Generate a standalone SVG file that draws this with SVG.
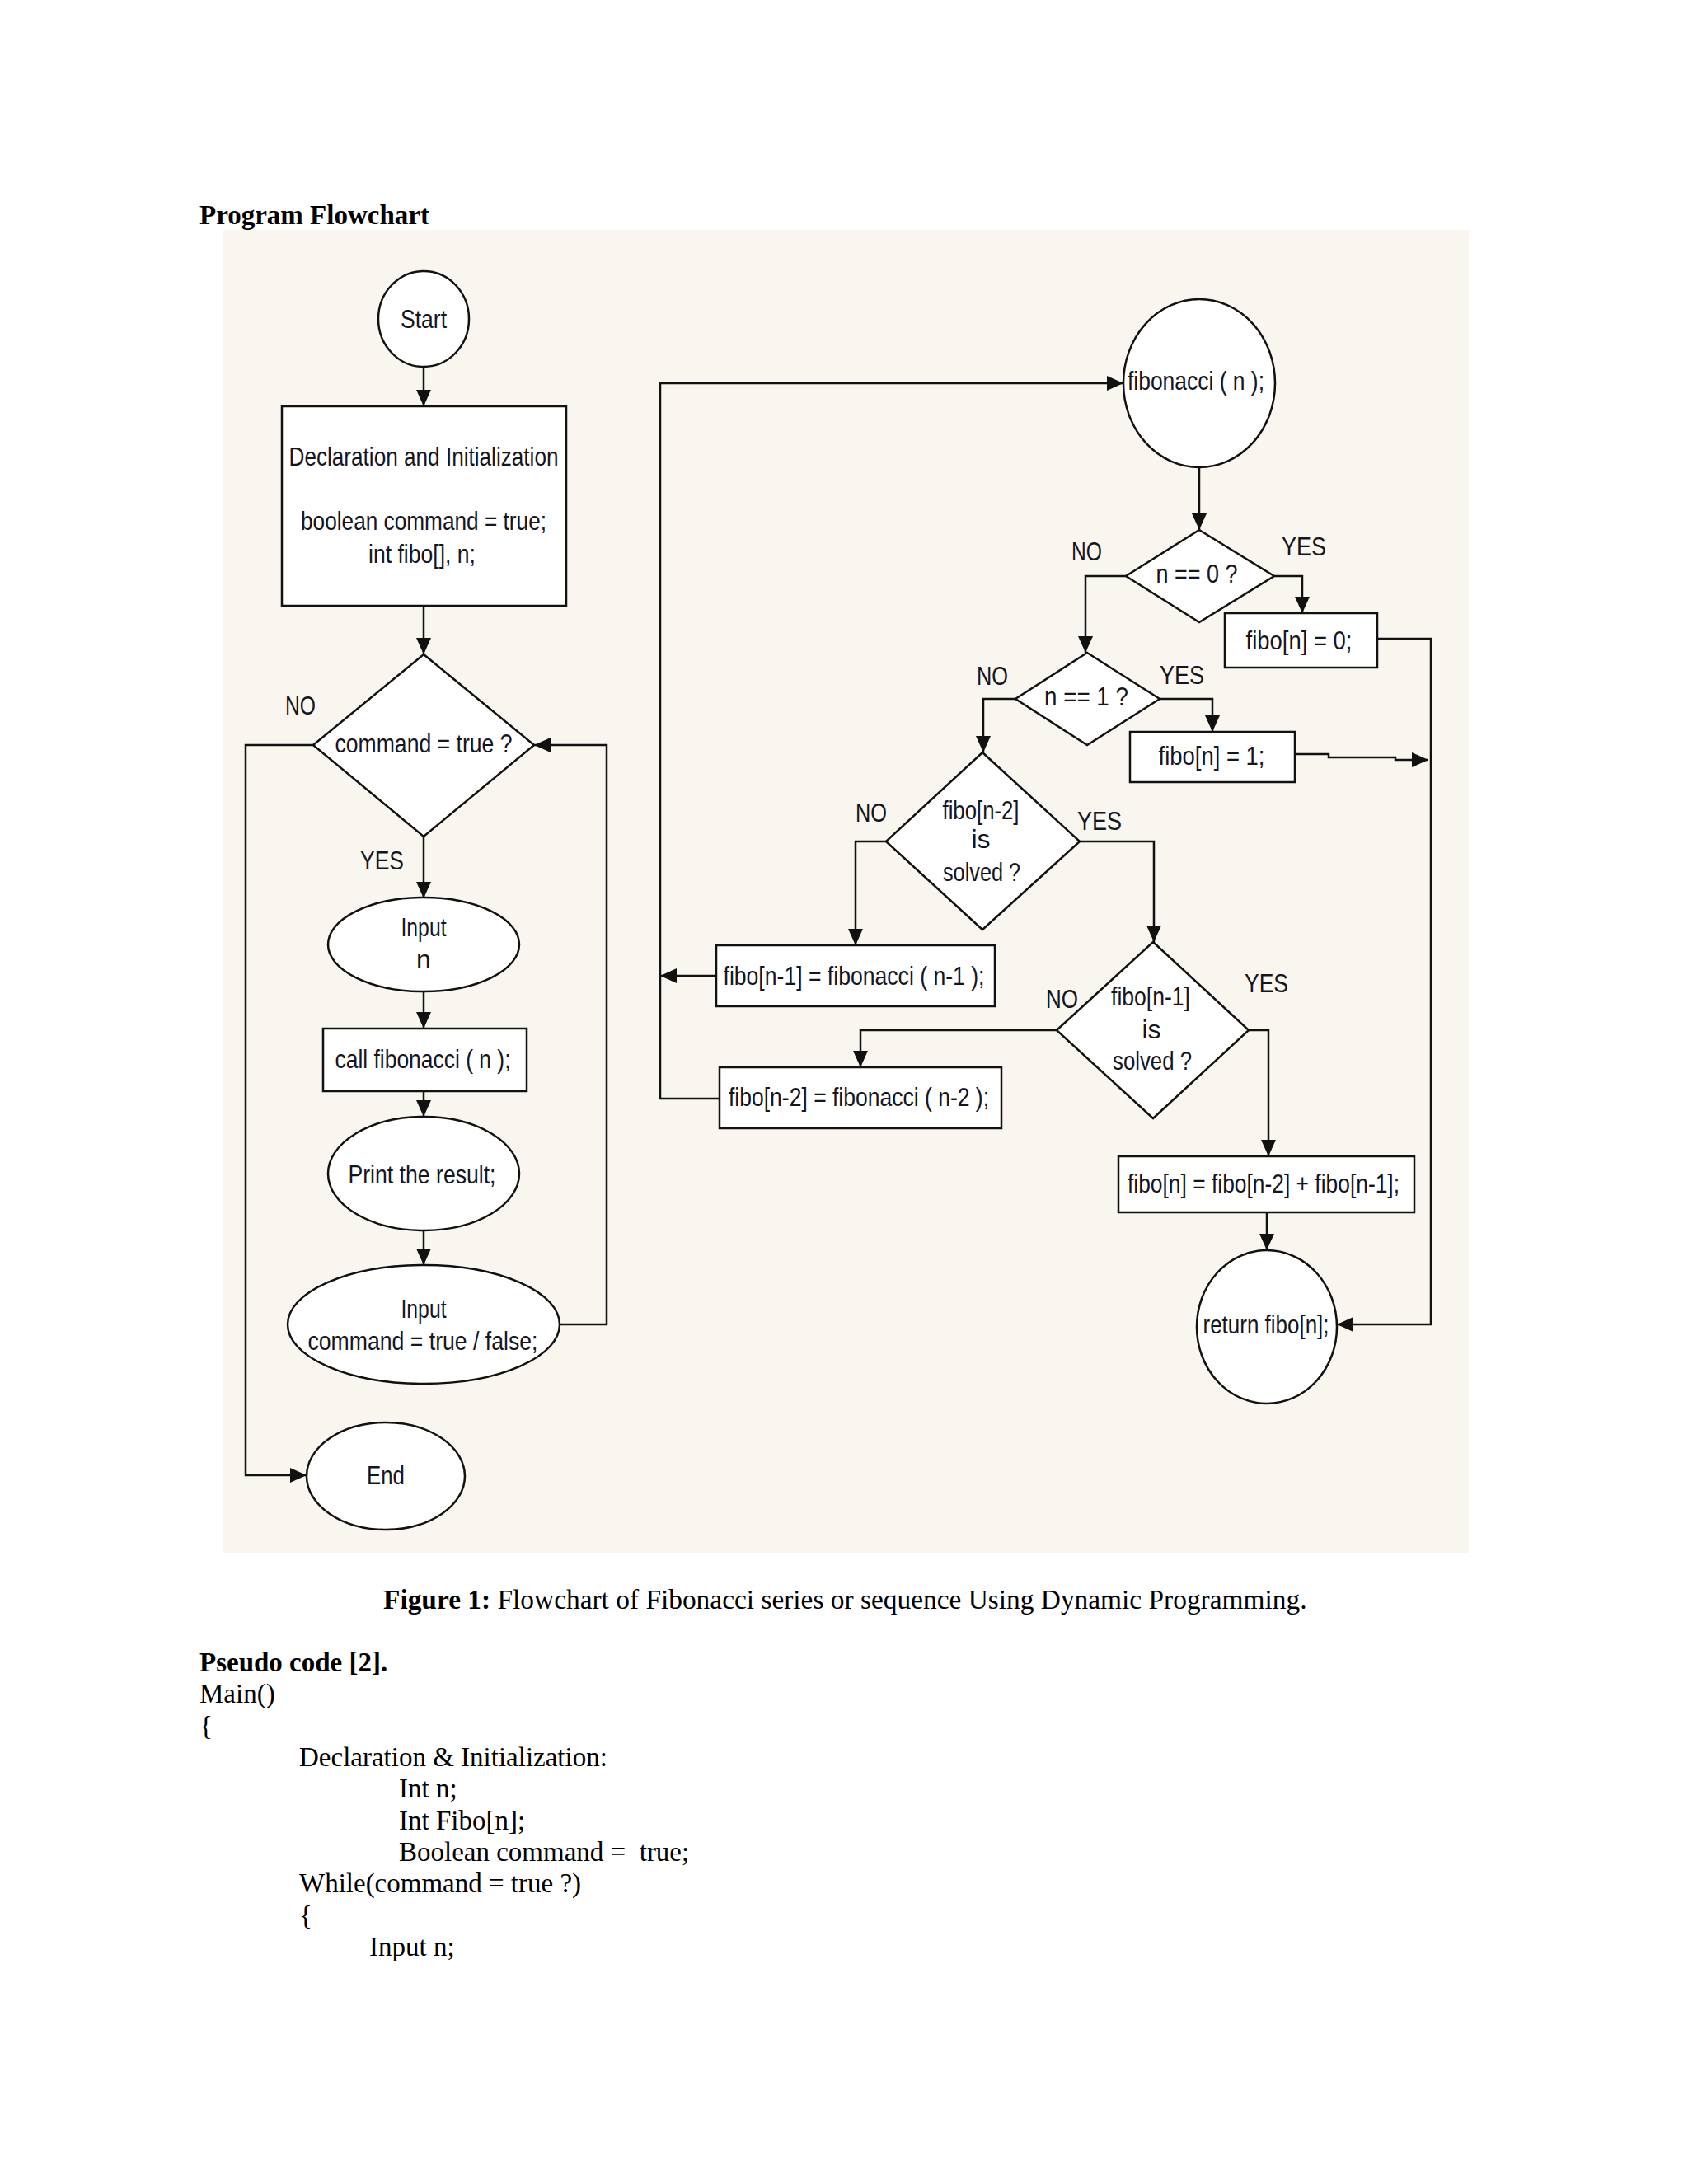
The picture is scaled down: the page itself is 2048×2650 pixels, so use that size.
<svg xmlns="http://www.w3.org/2000/svg" width="2048" height="2650" viewBox="0 0 2048 2650">
<style>
.doc{font-family:"Liberation Serif","Times New Roman",serif;font-size:33px;fill:#000}
.cap{font-size:33.4px}
.b{font-weight:bold}
.t{font-family:"Liberation Sans Narrow","Liberation Sans",Arial,sans-serif;font-size:32px;fill:#15151d;text-anchor:middle}
.l{font-family:"Liberation Sans Narrow","Liberation Sans",Arial,sans-serif;font-size:32px;fill:#15151d}
.s{fill:#fff;stroke:#111;stroke-width:2.5}
.c{fill:none;stroke:#111;stroke-width:2.5}
</style>
<defs>
<marker id="ah" viewBox="0 0 20 18" refX="20" refY="9" markerWidth="20" markerHeight="18" orient="auto" markerUnits="userSpaceOnUse"><path d="M0,0 L20,9 L0,18 z" fill="#111"/></marker>
</defs>
<rect width="2048" height="2650" fill="#fff"/>
<text class="doc b" x="242" y="272">Program Flowchart</text>
<rect x="271" y="279" width="1511" height="1605" fill="#f9f6f0"/>

<g id="connectors">
<path class="c" d="M514,445 V493" marker-end="url(#ah)"/>
<path class="c" d="M514,735 V794" marker-end="url(#ah)"/>
<path class="c" d="M380,904 H298 V1790 H372" marker-end="url(#ah)"/>
<path class="c" d="M514,1015 V1090" marker-end="url(#ah)"/>
<path class="c" d="M514,1203 V1248" marker-end="url(#ah)"/>
<path class="c" d="M514,1324 V1355" marker-end="url(#ah)"/>
<path class="c" d="M514,1493 V1535" marker-end="url(#ah)"/>
<path class="c" d="M679,1607 H736 V904 H648" marker-end="url(#ah)"/>
<path class="c" d="M873,1333 H801 V465 H1363" marker-end="url(#ah)"/>
<path class="c" d="M869,1184 H801" marker-end="url(#ah)"/>
<path class="c" d="M1455,567 V643" marker-end="url(#ah)"/>
<path class="c" d="M1366,699 H1317 V792" marker-end="url(#ah)"/>
<path class="c" d="M1546,699 H1580 V744" marker-end="url(#ah)"/>
<path class="c" d="M1671,775 H1736 V1607 H1622" marker-end="url(#ah)"/>
<path class="c" d="M1232,848 H1193 V913" marker-end="url(#ah)"/>
<path class="c" d="M1407,848 H1471 V888" marker-end="url(#ah)"/>
<path class="c" d="M1571,915 H1612 V919 H1693 V922 H1733" marker-end="url(#ah)"/>
<path class="c" d="M1075,1021 H1038 V1147" marker-end="url(#ah)"/>
<path class="c" d="M1310,1021 H1400 V1143" marker-end="url(#ah)"/>
<path class="c" d="M1282,1250 H1044 V1295" marker-end="url(#ah)"/>
<path class="c" d="M1515,1250 H1539 V1403" marker-end="url(#ah)"/>
<path class="c" d="M1537,1471 V1517" marker-end="url(#ah)"/>
</g>

<g id="labels">
<text class="l" x="346" y="867" textLength="37" lengthAdjust="spacingAndGlyphs">NO</text>
<text class="l" x="437" y="1055" textLength="53" lengthAdjust="spacingAndGlyphs">YES</text>
<text class="l" x="1300" y="680" textLength="37" lengthAdjust="spacingAndGlyphs">NO</text>
<text class="l" x="1555" y="674" textLength="54" lengthAdjust="spacingAndGlyphs">YES</text>
<text class="l" x="1185" y="831" textLength="38" lengthAdjust="spacingAndGlyphs">NO</text>
<text class="l" x="1407" y="830" textLength="54" lengthAdjust="spacingAndGlyphs">YES</text>
<text class="l" x="1038" y="997" textLength="38" lengthAdjust="spacingAndGlyphs">NO</text>
<text class="l" x="1307" y="1007" textLength="54" lengthAdjust="spacingAndGlyphs">YES</text>
<text class="l" x="1269" y="1223" textLength="39" lengthAdjust="spacingAndGlyphs">NO</text>
<text class="l" x="1510" y="1204" textLength="53" lengthAdjust="spacingAndGlyphs">YES</text>
</g>

<g id="start">
<ellipse class="s" cx="514" cy="387" rx="55" ry="58"/>
<text class="t" x="514" y="398" textLength="56" lengthAdjust="spacingAndGlyphs">Start</text>
</g>
<g id="declaration">
<rect class="s" x="342" y="493" width="345" height="242"/>
<text class="t" x="514" y="565" textLength="327" lengthAdjust="spacingAndGlyphs">Declaration and Initialization</text>
<text class="t" x="514" y="643" textLength="298" lengthAdjust="spacingAndGlyphs">boolean command = true;</text>
<text class="t" x="512" y="683" textLength="130" lengthAdjust="spacingAndGlyphs">int fibo[], n;</text>
</g>
<g id="command-decision">
<polygon class="s" points="514,794 648,904 514,1015 380,904"/>
<text class="t" x="514" y="913" textLength="215" lengthAdjust="spacingAndGlyphs">command = true ?</text>
</g>
<g id="input-n">
<ellipse class="s" cx="514" cy="1146" rx="116" ry="57"/>
<text class="t" x="514" y="1136" textLength="55" lengthAdjust="spacingAndGlyphs">Input</text>
<text class="t" x="514" y="1175">n</text>
</g>
<g id="call-fibonacci">
<rect class="s" x="392" y="1248" width="247" height="76"/>
<text class="t" x="513" y="1296" textLength="213" lengthAdjust="spacingAndGlyphs">call fibonacci ( n );</text>
</g>
<g id="print-result">
<ellipse class="s" cx="514" cy="1424" rx="116" ry="69"/>
<text class="t" x="512" y="1436" textLength="179" lengthAdjust="spacingAndGlyphs">Print the result;</text>
</g>
<g id="input-command">
<ellipse class="s" cx="514" cy="1607" rx="165" ry="72"/>
<text class="t" x="514" y="1599" textLength="55" lengthAdjust="spacingAndGlyphs">Input</text>
<text class="t" x="513" y="1638" textLength="279" lengthAdjust="spacingAndGlyphs">command = true / false;</text>
</g>
<g id="end">
<ellipse class="s" cx="468" cy="1791" rx="96" ry="65"/>
<text class="t" x="468" y="1801" textLength="46" lengthAdjust="spacingAndGlyphs">End</text>
</g>

<g id="fibonacci-fn">
<ellipse class="s" cx="1455" cy="465" rx="92" ry="102"/>
<text class="t" x="1451" y="473" textLength="166" lengthAdjust="spacingAndGlyphs">fibonacci ( n );</text>
</g>
<g id="n-eq-0">
<polygon class="s" points="1455,643 1546,699 1455,755 1366,699"/>
<text class="t" x="1452" y="707" textLength="99" lengthAdjust="spacingAndGlyphs">n == 0 ?</text>
</g>
<g id="fibo-0">
<rect class="s" x="1486" y="744" width="185" height="66"/>
<text class="t" x="1576" y="788" textLength="129" lengthAdjust="spacingAndGlyphs">fibo[n] = 0;</text>
</g>
<g id="n-eq-1">
<polygon class="s" points="1319,792 1407,848 1319,904 1232,848"/>
<text class="t" x="1318" y="856" textLength="102" lengthAdjust="spacingAndGlyphs">n == 1 ?</text>
</g>
<g id="fibo-1">
<rect class="s" x="1371" y="888" width="200" height="61"/>
<text class="t" x="1470" y="928" textLength="129" lengthAdjust="spacingAndGlyphs">fibo[n] = 1;</text>
</g>
<g id="n2-solved">
<polygon class="s" points="1192,913 1310,1021 1192,1128 1075,1021"/>
<text class="t" x="1190" y="994" textLength="93" lengthAdjust="spacingAndGlyphs">fibo[n-2]</text>
<text class="t" x="1190" y="1029">is</text>
<text class="t" x="1191" y="1069" textLength="94" lengthAdjust="spacingAndGlyphs">solved ?</text>
</g>
<g id="fibo-n1-call">
<rect class="s" x="869" y="1147" width="338" height="74"/>
<text class="t" x="1036" y="1195" textLength="317" lengthAdjust="spacingAndGlyphs">fibo[n-1] = fibonacci ( n-1 );</text>
</g>
<g id="n1-solved">
<polygon class="s" points="1399,1143 1515,1250 1399,1357 1282,1250"/>
<text class="t" x="1396" y="1220" textLength="96" lengthAdjust="spacingAndGlyphs">fibo[n-1]</text>
<text class="t" x="1397" y="1260">is</text>
<text class="t" x="1398" y="1298" textLength="96" lengthAdjust="spacingAndGlyphs">solved ?</text>
</g>
<g id="fibo-n2-call">
<rect class="s" x="873" y="1295" width="342" height="74"/>
<text class="t" x="1042" y="1342" textLength="316" lengthAdjust="spacingAndGlyphs">fibo[n-2] = fibonacci ( n-2 );</text>
</g>
<g id="fibo-sum">
<rect class="s" x="1357" y="1403" width="359" height="68"/>
<text class="t" x="1533" y="1447" textLength="330" lengthAdjust="spacingAndGlyphs">fibo[n] = fibo[n-2] + fibo[n-1];</text>
</g>
<g id="return">
<ellipse class="s" cx="1537" cy="1610" rx="85" ry="93"/>
<text class="t" x="1536" y="1618" textLength="153" lengthAdjust="spacingAndGlyphs">return fibo[n];</text>
</g>

<text class="doc cap" x="465" y="1952"><tspan class="b">Figure 1:</tspan> Flowchart of Fibonacci series or sequence Using Dynamic Programming.</text>
<text class="doc b" x="242" y="2028">Pseudo code [2].</text>
<text class="doc" x="242" y="2066">Main()</text>
<text class="doc" x="242" y="2105">{</text>
<text class="doc" x="363" y="2143">Declaration &amp; Initialization:</text>
<text class="doc" x="484" y="2181">Int n;</text>
<text class="doc" x="484" y="2220">Int Fibo[n];</text>
<text class="doc" x="484" y="2258" xml:space="preserve">Boolean command =  true;</text>
<text class="doc" x="363" y="2296">While(command = true ?)</text>
<text class="doc" x="363" y="2335">{</text>
<text class="doc" x="448" y="2373">Input n;</text>
</svg>
